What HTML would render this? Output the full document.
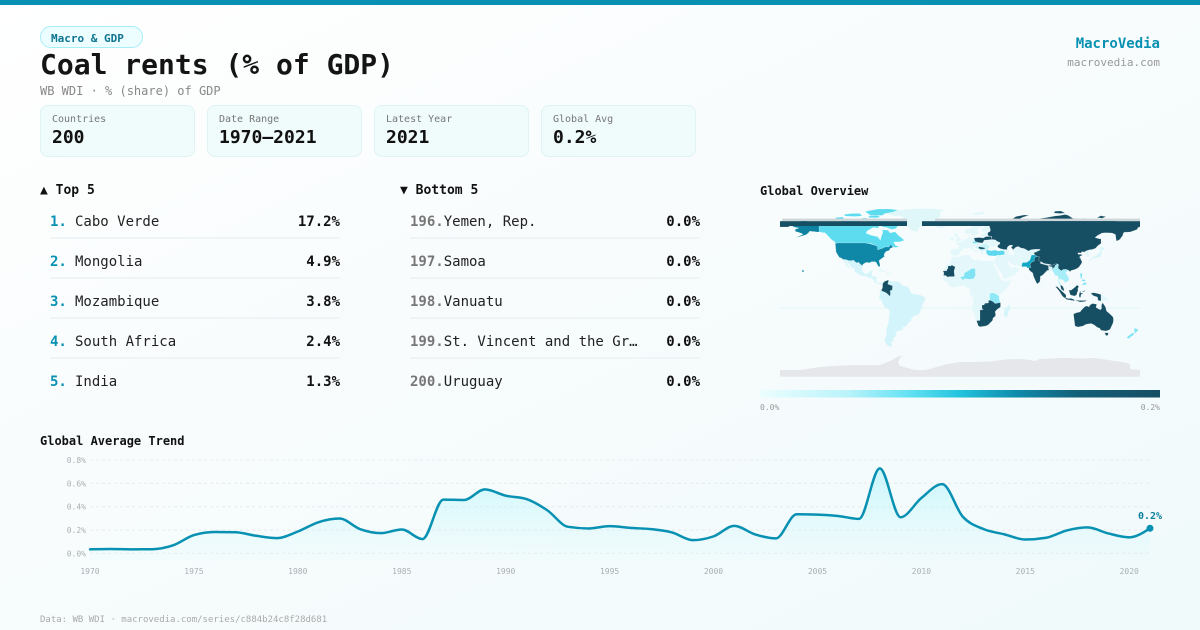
<!DOCTYPE html>
<html><head><meta charset="utf-8">
<style>
*{margin:0;padding:0;box-sizing:border-box}
html,body{width:1200px;height:630px;overflow:hidden}
body{position:relative;background:linear-gradient(155deg,#ffffff 0%,#f8fcfd 45%,#f0fafb 100%);font-family:"DejaVu Sans Mono","Liberation Mono",monospace;color:#111}
.a{position:absolute;white-space:nowrap}
.bar{position:absolute;left:0;top:0;width:1200px;height:5px;background:#0891b2}
.badge{position:absolute;left:40px;top:26px;width:103px;height:22px;border:1px solid #a5eef8;border-radius:11px;background:#ecfeff;color:#0e7490;font-weight:bold;font-size:11px;line-height:21px;padding-top:1px;padding-left:10px}
.card{position:absolute;top:105px;width:155px;height:52px;background:#f0fbfb;border:1px solid #dff3f4;border-radius:8px}
.card .l{position:absolute;left:11px;top:9px;font-size:10px;line-height:10px;color:#777;white-space:nowrap}
.card .v{position:absolute;left:11px;top:22.5px;font-size:18px;line-height:18px;font-weight:bold;color:#111;white-space:nowrap}
.h{position:absolute;font-weight:bold;white-space:nowrap;color:#111}
.row{position:absolute;width:290px;height:14px;line-height:14px;font-size:14px;white-space:nowrap;color:#222}
.rk{display:inline-block;min-width:25px;font-weight:bold;color:#0891b2}
.rk.g{color:#777}
.vl{position:absolute;right:0;top:0;font-weight:bold;color:#111}
.sep{position:absolute;width:290px;height:2px;background:#eff4f6}
</style></head><body>
<div class="bar"></div>
<div class="badge">Macro &amp; GDP</div>
<div class="a" style="left:40px;top:51.3px;font-size:28px;line-height:28px;font-weight:bold;color:#141414">Coal rents (% of GDP)</div>
<div class="a" style="left:40px;top:84.8px;font-size:12px;line-height:12px;color:#888">WB WDI · % (share) of GDP</div>

<div class="a" style="right:40px;top:37.2px;font-size:14px;line-height:14px;font-weight:bold;color:#0891b2">MacroVedia</div>
<div class="a" style="right:40px;top:56.7px;font-size:11px;line-height:11px;color:#999">macrovedia.com</div>

<div class="card" style="left:40px"><div class="l">Countries</div><div class="v">200</div></div>
<div class="card" style="left:207px"><div class="l">Date Range</div><div class="v">1970–2021</div></div>
<div class="card" style="left:374px"><div class="l">Latest Year</div><div class="v">2021</div></div>
<div class="card" style="left:541px"><div class="l">Global Avg</div><div class="v">0.2%</div></div>

<div class="h" style="left:40px;top:184.3px;font-size:13px;line-height:13px">▲ Top 5</div>
<div class="h" style="left:400px;top:184.3px;font-size:13px;line-height:13px">▼ Bottom 5</div>
<div class="h" style="left:760px;top:185.2px;font-size:12px;line-height:12px">Global Overview</div>
<div class="h" style="left:40px;top:434.9px;font-size:12px;line-height:12px">Global Average Trend</div>

<div class="row" style="left:50px;top:215.2px"><span class="rk">1.</span>Cabo Verde<span class="vl">17.2%</span></div>
<div class="sep" style="left:50px;top:237px"></div>
<div class="row" style="left:50px;top:255.2px"><span class="rk">2.</span>Mongolia<span class="vl">4.9%</span></div>
<div class="sep" style="left:50px;top:277px"></div>
<div class="row" style="left:50px;top:295.2px"><span class="rk">3.</span>Mozambique<span class="vl">3.8%</span></div>
<div class="sep" style="left:50px;top:317px"></div>
<div class="row" style="left:50px;top:335.2px"><span class="rk">4.</span>South Africa<span class="vl">2.4%</span></div>
<div class="sep" style="left:50px;top:357px"></div>
<div class="row" style="left:50px;top:375.2px"><span class="rk">5.</span>India<span class="vl">1.3%</span></div>

<div class="row" style="left:410px;top:215.2px"><span class="rk g">196.</span>Yemen, Rep.<span class="vl">0.0%</span></div>
<div class="sep" style="left:410px;top:237px"></div>
<div class="row" style="left:410px;top:255.2px"><span class="rk g">197.</span>Samoa<span class="vl">0.0%</span></div>
<div class="sep" style="left:410px;top:277px"></div>
<div class="row" style="left:410px;top:295.2px"><span class="rk g">198.</span>Vanuatu<span class="vl">0.0%</span></div>
<div class="sep" style="left:410px;top:317px"></div>
<div class="row" style="left:410px;top:335.2px"><span class="rk g">199.</span>St. Vincent and the Gr…<span class="vl">0.0%</span></div>
<div class="sep" style="left:410px;top:357px"></div>
<div class="row" style="left:410px;top:375.2px"><span class="rk g">200.</span>Uruguay<span class="vl">0.0%</span></div>

<div class="a" style="left:40px;top:615.7px;font-size:9px;line-height:9px;color:#aaa">Data: WB WDI · macrovedia.com/series/c884b24c8f28d681</div>

<svg style="position:absolute;left:0;top:0" width="1200" height="630" viewBox="0 0 1200 630" xmlns="http://www.w3.org/2000/svg">
<defs>
<linearGradient id="cb" x1="0" y1="0" x2="1" y2="0">
<stop offset="0" stop-color="#ecfeff"/><stop offset="0.22" stop-color="#b9f3fa"/><stop offset="0.38" stop-color="#5fe0f2"/><stop offset="0.5" stop-color="#22c3dd"/><stop offset="0.64" stop-color="#0e8bab"/><stop offset="0.8" stop-color="#145f77"/><stop offset="1" stop-color="#164e63"/>
</linearGradient>
<linearGradient id="af" x1="0" y1="0" x2="0" y2="1">
<stop offset="0" stop-color="#a5f3fc" stop-opacity="0.55"/><stop offset="1" stop-color="#cffafe" stop-opacity="0.08"/>
</linearGradient>
</defs>

<!-- MAP -->
<line x1="780" y1="308" x2="1140" y2="308" stroke="#e2f7fa" stroke-width="1"/>
<g transform="translate(960 292) scale(1 -1)" stroke="#ffffff" stroke-width="0.25" stroke-opacity="0.6" stroke-linejoin="round">
<polygon fill="#e5e7eb" stroke="none" points="-180,-84.7 -180,-78 -160,-78 -150,-76.5 -140,-75 -120,-73.5 -100,-73 -80,-73 -75,-71 -68,-68 -62,-64.5 -57,-63.3 -60,-66 -62,-70 -60,-74 -45,-78 -35,-78 -25,-75.5 -15,-72.5 0,-70 15,-70 30,-69.5 45,-67.5 60,-67 70,-68 75,-69 80,-67 90,-66.5 100,-66 110,-66 120,-66.5 135,-66 145,-67.5 155,-69 165,-70.5 170,-72 170,-77 180,-78 180,-84.7"/>
<polygon fill="#e0f7fa" points="-73,78 -67,76.3 -60,76 -58,75.5 -55,72 -54,70 -53,67 -51,64 -48,61 -43,60 -41.5,62.5 -40,65 -35,66 -32,68 -25,69.5 -22,70.5 -23.5,72.5 -20,75 -19,77.5 -20,80 -14,81.5 -20,82.5 -30,83.5 -40,83.5 -55,82.5 -62,82 -65,80.5 -73,78.6"/>
<polygon fill="#e4f8fb" points="-24,65.5 -22,66.4 -15,66.5 -13.5,65 -18.5,63.4 -22.5,63.8"/>
<polygon fill="#e4f8fb" points="11,78.5 16,79.8 22,80.3 27,79.5 22,77.5 17,76.6 14,77.5"/>
<g fill="#5ddcef">
<polygon points="-141,60 -141,69.6 -134,69.3 -128,70.2 -117,69 -108,68.5 -98,67.8 -94,69 -88,68.2 -82,68.5 -81,64 -87,64.5 -93,61 -94,58.8 -89,56.8 -82.3,55.2 -79.5,51.6 -79,54.5 -77,60 -78,62.3 -72,61.7 -70,59 -65,60.3 -61.5,56.5 -57,53 -56,51.6 -60,50.2 -66.5,50 -64.5,46.5 -61,45.6 -64,44.5 -66,44.8 -67.8,45.7 -69.5,47.5 -71,45 -75,45 -76.5,44 -79.2,43.3 -82.5,42 -82.5,45.3 -84.5,46.5 -88.5,48.2 -95,49 -123,49 -124.5,48.5 -125.5,50.5 -128,52 -130.5,54.5 -133,57.3 -135.5,59.5 -137.5,59.2 -139,60"/>
<polygon points="-90,71 -84,73.5 -78,72.5 -70,70.5 -66,68 -62,66.5 -64,63.5 -68,62.5 -73,64.5 -77,65 -81,67 -84,69.5"/>
<polygon points="-118,69 -113,68.5 -105,68.8 -100,69.8 -102,72.5 -110,73 -118,73 -119,71"/>
<polygon points="-125,71.8 -121,71.3 -116,73 -117,75 -124,74.5"/>
<polygon points="-90,77 -78,76.5 -75,78.5 -67,80 -62,82 -70,83 -82,83 -90,81.5 -95,80.5"/>
<polygon points="-92,74.5 -84,74.3 -80,74.8 -82,76.5 -90,76.5"/>
<polygon points="-115,76 -105,75.5 -98,76 -100,78.5 -108,78.5 -116,77.5"/>
<polygon points="-100,72 -95,71.8 -93,74 -97,74"/>
</g>
<polygon fill="#0f87a7" points="-124.7,48.4 -123,49 -95,49 -89.5,48 -84.5,46.5 -82.5,45.3 -82.5,42 -79.2,43.3 -76.5,44 -75,45 -71,45 -69.5,47.5 -67.8,45.7 -67,44.7 -70,43.5 -70.5,41.7 -74,40.5 -75.5,38.5 -76,37 -75.5,35.5 -77,34.5 -81,31.5 -80,27 -80.2,25.2 -81.5,25.5 -82.7,27.5 -84,30 -86,30.4 -89,30.2 -90,29.2 -94,29.6 -97.4,27.5 -97.4,26 -99.5,27.5 -101.5,29.8 -103,29 -104.5,29.8 -106.5,31.8 -108.2,31.3 -111,31.3 -114.8,32.5 -117.1,32.5 -118.5,34 -120.6,34.5 -122.5,37.5 -124,40.3 -124.2,43"/>
<polygon fill="#0f82a2" points="-141,60 -141,69.6 -148,70.3 -156.5,71.3 -162,70.2 -166,68.8 -163.5,66.6 -168,65.6 -164,64.5 -161,64 -165,62.5 -164.5,60.5 -162,59.9 -158,58.5 -157,57.5 -162,55.5 -164.5,54.5 -159,55.8 -154,57.2 -152,58.8 -150,61 -148,60.5 -146,60.5 -143,60"/>
<circle cx="-157" cy="21" r="0.9" fill="#0f87a7" stroke="none"/>
<polygon fill="#d6f5fa" points="-117.1,32.5 -114.8,32.5 -111,31.3 -108.2,31.3 -106.5,31.8 -104.5,29.8 -103,29 -101.5,29.8 -99.5,27.5 -97.4,26 -97.8,22 -96,19 -94.5,18.2 -91,18.8 -90.5,21 -87,21.5 -88,18.2 -88.5,15.8 -84,15.8 -83.3,15 -83.5,11 -82.5,9.3 -81,8.8 -79.5,9.5 -77.3,8.5 -77.9,7.2 -80.5,7.3 -81.5,7.8 -85.7,10 -86,12 -88,13.2 -92,14.5 -94.5,16 -97,15.8 -101,17.3 -105.5,20.5 -105.5,23 -109,24.5 -110.5,27.5 -112.7,29.8 -114.8,31.8 -113,29.5 -112.3,27.5 -110,24.2 -110.3,23.3 -112,24.7 -114.5,27.8 -114,28.7 -115.8,30.3"/>
<polygon fill="#e0f7fa" points="-85,21.8 -82,22.6 -80,23.1 -77,22 -74.1,20.2 -77.7,19.9 -78,21 -81,21.8"/>
<polygon fill="#e0f7fa" points="-74.5,18.4 -72.5,19.9 -68.5,18.6 -68.4,18.2 -71,17.8"/>
<polygon fill="#d2f4fa" points="-77.3,8.5 -75.5,10.6 -72,11.9 -71.3,11.5 -68,10.7 -64,10.7 -61,10.2 -58,6.8 -54,5.8 -51,4.2 -50,1.8 -49,-1 -44.5,-2.5 -40,-2.8 -35,-5.2 -34.8,-7.5 -37,-12 -39,-17.5 -40,-20.5 -42,-23 -45,-23.6 -48.5,-26 -48.7,-28.5 -52,-31.5 -54,-34.5 -57,-35 -57.5,-38 -62,-39 -65,-41 -63.5,-42.7 -65,-45 -67.5,-46.5 -66,-48 -69,-51 -68.5,-52.5 -68,-55 -71.5,-54 -74,-52 -75.5,-48 -73.5,-43 -73.5,-37 -71.5,-30 -70.3,-18.5 -75.5,-15 -79,-8 -81.2,-6 -80.3,-3.5 -80.5,0 -79.5,1.5 -78.8,1.8 -77.5,4"/>
<polygon fill="#164e63" points="-77.3,8.5 -75.5,10.6 -72,11.9 -71.3,11.5 -72.3,8 -70,7 -67.5,6.2 -67.8,2 -70,1.2 -69.5,-1 -70,-4.2 -73.5,-1 -75.2,-0.1 -77.5,0.8 -78.8,1.8 -77.5,4"/>
<polygon fill="#e4f8fb" points="-17,21 -17.2,14.7 -16.7,12.4 -15,11 -13,9 -11.4,6.8 -7.5,4.4 -4,5.2 1,6 4.5,6.3 6,4.3 8.5,4.5 9.7,3 9.5,1 9,-1 11.8,-4.5 12.3,-6 13.3,-8.8 12.3,-13.5 11.8,-17 14.5,-22.5 15.2,-27 16.5,-28.6 18.4,-34 20,-34.8 25.6,-34 28,-33 32.5,-28.5 33,-26 35.5,-24 35.5,-21.5 35,-19.8 37,-17.5 40.5,-15 40.5,-10.5 39.3,-8 39,-4.7 41,-1.7 43.5,0.6 48,4.5 51,10.5 51.2,11.8 48,11.2 44.5,10.4 43.2,11.6 41.8,11.6 39.5,15.5 38,18 37.3,21 35.5,23.8 34,27 32.5,30 32.3,31.3 29,30.9 25,31.6 20,31 20,32.2 15.5,32 11.5,33.2 10.3,36.9 9.5,37.3 3,36.8 -2,35.1 -5.9,35.8 -9.5,32.5 -9.8,29.5 -13,27.8 -14.5,26.2"/>
<polygon fill="#164e63" points="-17,21 -16,19 -16.5,16.5 -14.5,16.6 -12,14.8 -11.5,15.4 -5.5,15.5 -5.5,16.5 -6,21 -4.8,25 -8.7,27.3 -8.7,26 -12,26 -12,23.5 -13.1,22.8 -13,21.3"/>
<polygon fill="#7fe3f3" points="0.2,14.9 2.2,12.6 3.6,11.7 4,13.5 7,13 9.6,12.8 13.6,13.3 14,14 15.5,16.8 15.2,21 15.5,23 14,23.5 12,23.5 7.5,20.8 5.5,19.5 4.2,19.1 4.3,16.8 3.6,15.5 1.3,15.3"/>
<polygon fill="#164e63" points="16.5,-28.6 18.4,-34 20,-34.8 25.6,-34 28,-33 32.5,-28.5 33,-26 35.5,-24 35.5,-21.5 35,-19.8 37,-17.5 40.5,-15 40.5,-10.5 35,-11.5 33,-9.5 30.5,-8.2 28.5,-8.5 28.5,-11 25,-11.3 24,-13 22,-13 22,-16.5 23.4,-17.6 20,-18 20,-22 20,-24.8 20,-28.5"/>
<polygon fill="#8fe8f6" points="30,-1 34,-1 37.6,-3 39.3,-4.7 39.3,-8 40.5,-10.5 35,-11.5 33,-9.5 30.5,-8.2 29.5,-6"/>
<polygon fill="#d6f5fa" points="49.5,-12 50.5,-15.5 49.5,-17.5 48,-22 47.2,-25 45,-25.5 43.5,-22 44.3,-18.5 44,-16.5 46.5,-15.7 48,-13.5"/>
<polygon fill="#e4f8fb" points="-9.5,37 -7.5,37.2 -6,36.2 -5,36.2 -2,36.7 0,38.7 0.3,40 3.2,42 3,43.3 6.5,43.1 8.5,44.3 10.2,43.9 12.5,41.8 15.7,40 16,38 16.5,39.5 18.5,40.2 16,41.5 14,43 12.3,45.2 13.7,45.6 15.5,43.5 19.5,41.8 19.3,40.3 21,39 23,36.5 23,38.2 24,38.3 22.8,40.5 26.3,40.9 26,41.7 28,42 28.5,43.5 29.7,45.2 28,48 24,48 22.5,49 18.5,49.5 15,50.8 14,54 10.5,54.5 10,57.5 8.5,55.5 8.5,53.8 5,53.3 4,51.5 2,51 -1.5,49.7 -4.5,48.5 -1.2,46 -1.5,43.5 -9,43"/>
<polygon fill="#e4f8fb" points="5,58 5,62 10,64 14,67.5 18,69.5 23,70.5 28.5,71 31,70 29,69 28.5,68 30,67.5 29.5,65 30.5,62.5 28,60.5 22.5,60 21.5,61 21.5,63.5 25,65.5 23.5,66 21,65 17.5,62.5 17,61 19,59.5 16.5,57 14,55.5 12.5,56.2 11,58.8 8,58"/>
<polygon fill="#e4f8fb" points="-5.7,50 1.5,51.2 1.7,52.7 0,53.5 -1.5,55 -2,56 -1.8,57.6 -3,58.6 -5,58.6 -6.2,57 -5.6,55.3 -3,54.8 -3.2,53.4 -4.7,52.8 -4,51.6"/>
<polygon fill="#e4f8fb" points="-6,52.1 -6,54 -7.5,55.2 -10,54.2 -10,51.6"/>
<polygon fill="#e4f8fb" points="21,54 24,54 25,56 28,56 28,59.5 24,59.5 21.5,57.5 21,56.5"/>
<polygon fill="#e4f8fb" points="24,52 31,52 34,52 40,49.5 38,47 35,46 33,44.5 30,45.5 28,48 24,48 22.5,49"/>
<polygon fill="#7fe2f3" points="12,50.3 15,50.8 18.5,49.8 17,48.6 13.5,48.6"/>
<polygon fill="#c8f3fa" points="16,45.5 20,46.2 22,48 26.5,48.2 28.2,46.5 29.7,45.2 28.6,43.7 28,42 26,41.7 22.5,41.3 20.5,42 18.5,42.5 16,44.5"/>
<polygon fill="#164e63" points="18.5,45.3 22,44.8 25.5,44 24,43 21,42.8 19,43.5"/>
<polygon fill="#164e63" points="14,54 19,54.5 23.5,54 26,55.5 31,55.5 32,52.5 24,51.8 23.5,50.5 22.5,49 18.5,49.5 15,50.8"/>
<polygon fill="#e4f8fb" points="32.3,31.3 34.5,31.5 35.5,33.5 36,36 36.5,36.8 44,37 44.5,39.5 48,38.5 49,37.5 53.5,37.3 54,37.5 60,37.5 61,36.5 61,31.5 63,29.5 62,28.5 61.6,25.2 57.5,25.8 56.5,27 54,26.5 51.5,27.8 50,30 48,29.8 48.5,28 50,26.2 51.5,25.5 51.2,24.2 52,24 56,26 56.5,24.5 59.8,22.5 58.5,20.5 55,17 52,15.8 48,14 45,13 43.5,12.7 42.7,15.5 42,17.8 40.5,20 39,22 38,24 36.5,26 34.8,28 35,29.5 34,27.5 32.5,30"/>
<polygon fill="#e4f8fb" points="40,43.5 44,42.5 47.5,42.5 49.5,40.5 48.5,38.5 44.8,39.7 43.5,41.1 41.5,41.5"/>
<polygon fill="#e4f8fb" points="52.5,41.8 56,45 58.5,45.5 61,44 64,43.5 66,42.5 68.5,41 71,42.3 75,42.8 80,42.8 80.2,42 78,41 75,39.5 73.5,39.5 74.8,37.3 71.5,37 71,35.5 70.5,33.5 69.5,31.5 66.5,29.5 63,29.5 61,31.5 61,36.5 60,37.5 54,37.5 53.5,39"/>
<polygon fill="#5fd8ee" points="26,40 26.5,41.7 28,42 31,41.2 35,42 38.5,40.9 41.5,41.5 43.5,41.1 44.8,39.7 44.2,37.2 42.3,37.1 40,36.8 36.5,36.8 36,36 32.5,36.1 30,36.3 28,36.8 27,38 26.3,39.5"/>
<polygon fill="#13a8c6" points="61.6,25.2 66.5,25.4 67.5,23.8 68.8,24.3 71,24.5 70,27.8 72,30 74.5,31 74.5,34.5 77.5,35.5 75,37 71.5,37 71,35.5 70.5,33.5 69.5,31.5 66.5,29.5 63,29.5 62,28.5"/>
<polygon fill="#164e63" points="30,69.8 33,69.3 40,67.5 41,66 44,68.5 46,67.5 50,68 54,68.5 59,68.5 61,69.5 66,69 68,71 70,73 72,72.8 75,72.5 78,72.3 80,73.5 87,74.5 95,76 100,76.5 105,77.5 108,76.7 113,73.5 120,73 126,73.5 130,71 135,71.5 140,72.5 146,72.3 150,71.5 155,71 160,69.5 165,69.7 170,70 176,69.5 180,69 180,65 178,64.5 177,62.5 173,61 170,60 164,59.8 163,58 162.5,56 161.5,55 160,52.7 158,51.5 156.5,51 156,53.5 155.5,57.5 152,59 146,59.3 142,59 137.5,56.5 135,54.5 138,53.5 141,53 141,48.5 138,46.5 135.5,43.7 133,42.8 130.7,42.3 129,42 126,41 124.3,39.9 122,40.5 121,39 118,39.2 117.7,38.4 118.8,37.5 120.7,37.8 122.5,37 120.5,36 119.2,34.8 120.3,34.3 121,32 122,30.5 121.5,28.5 120,26.5 119,25 117,23.5 114,22.3 111,21.5 110,20.3 108.6,21.7 106.5,22.5 103.5,22.6 101.5,21.3 100,22 98,24 98.5,27.5 97.3,28 96,28.2 92,26.8 89,27.9 88,27.8 84,28.5 81,30.2 79,31.3 78.5,32.6 79.5,35 77.5,35.5 75,37 74.8,37.3 73.5,39.5 75,39.5 78,41 80.2,42 80,42.8 75,42.8 71,42.3 68.5,41 66,42.5 64,43.5 61,44 58.5,45.5 56,45 52.5,41.8 52.8,43 51,44.5 53,46.5 51,47 49,46.4 47.5,45 47,43.5 47.5,42.5 44,42.5 40,43.5 37.5,45 38,47 39.7,47.8 40,49.5 37.5,50.5 35,52.2 32,52.5 31.5,54 32,55.5 28.5,56 27.5,58 28,59.5 30,60.5 30.5,62.5 29.5,65 30,67.5 28.5,69"/>
<polygon fill="#164e63" points="-180,69 -175,67.5 -170,66 -172,65 -178,65 -180,65"/>
<polygon fill="#164e63" points="52,71.5 56,70.8 58,72 62,74.5 69,76.8 64,77 56,75.5 53,73.5"/>
<polygon fill="#164e63" points="94,79 100,78.5 105,79 101,81 95,80.8"/>
<polygon fill="#164e63" points="137,74.5 142,73.8 146,75.3 141,76.2"/>
<polygon fill="#164e63" points="68.8,24.3 69,22.3 70.5,20.8 72.8,19 73.5,15.8 74.8,12.8 76.3,9.5 77.5,8.1 78.2,8.9 79.8,10.3 80.3,13.5 80.3,15.8 82.3,16.6 85,19.3 87,21.5 89,21.8 88.5,24 88.5,26.5 92,26.8 96,28.2 97.3,28 95.2,26.5 94.5,24.5 93.3,24 92.5,22 91.5,23.5 92.3,25 89.8,25.5 88,26.5 88,27.8 84,28.5 81,30.2 79,31.3 78.5,32.6 79.5,35 77.5,35.5 74.5,34.5 74.5,31 72,30 70,27.8 71,24.5"/>
<polygon fill="#d6f5fa" points="88.5,24 89,21.8 90.5,22 91.8,22.3 92.5,22 92.3,25 89.8,25.5"/>
<polygon fill="#e4f8fb" points="80,28.8 84,27.5 88,26.5 88,27.8 84,28.5 81,30.2"/>
<polygon fill="#e4f8fb" points="79.8,8 81,6 81.9,7.5 80.2,9.8"/>
<polygon fill="#a5eef8" points="92.2,21 92.5,22 93.3,24 94.5,24.5 95.2,26.5 97.3,28 98.5,27.5 98,24 100,22 101.5,21.3 103.5,22.6 106.5,22.5 108,21.6 106.5,20 105.7,18.8 108,16 109.3,13 109,11.5 107,10.5 105,8.6 104.8,10.3 102.5,12.2 101,12.6 100,13.5 99.2,10.5 100.3,8 101,6.8 100.3,6.5 98.5,8.2 98.5,13 98,16 97.7,16.5 95.3,16 94.3,18.5"/>
<polygon fill="#164e63" points="100.3,6.5 101,6.8 102.5,6 103.5,4 104.3,1.4 103.5,1.3 101.3,2.8"/>
<polygon fill="#164e63" points="95.3,5.6 97.5,5.2 100.3,2.2 104,-1 106,-3 106,-5.8 104.5,-5.9 102.3,-4 100.3,-0.8 98.6,1.8"/>
<polygon fill="#164e63" points="105.2,-6.8 106,-5.9 108.5,-6.6 111,-6.4 114.5,-7.7 114.4,-8.7 111,-8.2 106.5,-7.4"/>
<polygon fill="#164e63" points="109,1.5 109.7,-1 110.5,-3 114.5,-4 116.5,-3 117.5,0.5 118,1 117.8,4 119,5.3 117,7 115.5,5.3 113,3.2 111,1.8 109.7,2"/>
<polygon fill="#164e63" points="119.5,-5.5 120.5,-5.5 121,-2.5 123.3,-1 120.5,-1 120.5,0.5 125,1.5 124.5,0.4 120,0.7 119,-3"/>
<polygon fill="#164e63" points="131,-1 134,-0.8 138,-1.6 141,-2.6 141,-9.1 138,-8.3 137.5,-5 134,-4 132,-2.6"/>
<polygon fill="#164e63" points="115,-8.3 119,-8.5 125,-8.5 127,-8.3 125,-9.5 120,-10"/>
<polygon fill="#e4f8fb" points="141,-2.6 145,-4.5 147.5,-6 150,-10.5 146,-8.5 143.5,-9 141,-9.1"/>
<g fill="#6ddff2">
<polygon points="120,18.5 122.3,18.5 122,16 121.5,14 124,13 120.5,13.8 120.5,16"/>
<polygon points="122,7 126,7.5 126.5,9 125,9.5 122.5,8"/>
<polygon points="122,11 124,10.5 125.5,11.5 124.5,12.5 122.5,12.5"/>
</g>
<polygon fill="#e4f8fb" points="124.3,39.9 126,41 129,42 130.5,42.5 129.5,40.8 128.3,38.6 129.5,37 129.3,35.2 126.5,34.5 126.2,37 125.2,37.7 124.7,38.3"/>
<polygon fill="#d6f5fa" points="130.9,34 132.5,35.4 135.5,35.7 137,37 140,40 140,41.4 141.5,41.3 142,39 141,38 140.8,36 140,35 137,34.5 135.2,33.8 132,33.8"/>
<polygon fill="#d6f5fa" points="129.7,33.3 131,34 132,33 131,31.3 130.2,31.3"/>
<polygon fill="#d6f5fa" points="140,41.5 140,43.2 141.5,45.4 145.5,43.4 143,42"/>
<polygon fill="#e4f8fb" points="120.1,23 121,25.2 122,25 121,22"/>
<polygon fill="#164e63" points="113.5,-22 114,-26 115,-34 118,-35 123,-34 126,-32.3 131,-31.5 134,-32.8 137.5,-35.5 139.5,-36 141,-38.3 146,-39 150,-37.5 153,-31 153.5,-28 153,-25 150.5,-22.5 146.5,-19 145.5,-15 143.5,-12 142.5,-10.7 141.5,-13 141.5,-17 140,-17.7 136,-15.5 136.7,-12.2 132.5,-11.5 130,-13 129,-15 127,-14 125,-14.5 122,-17.5 120,-20 116.5,-20.7"/>
<polygon fill="#164e63" points="144.6,-40.7 148.3,-40.9 148,-43.2 146,-43.6"/>
<polygon fill="#7fe4f4" points="172.7,-34.4 174.5,-36 178.5,-37.7 177,-39.5 175,-41.5 174.6,-39.8 173.8,-39 174.6,-37"/>
<polygon fill="#7fe4f4" points="172.7,-40.5 174.3,-41.7 173,-43.5 171.2,-44.5 169,-46.6 166.5,-46 168.3,-44 171,-42"/>
</g>
<rect x="782" y="218.6" width="125" height="2.6" fill="#cfd6da"/>
<rect x="780" y="221.2" width="127" height="4.8" fill="#164e63"/>
<rect x="935" y="218.6" width="205" height="2.6" fill="#cfd6da"/>
<rect x="922" y="221.2" width="218" height="4.8" fill="#164e63"/>

<rect x="760" y="390" width="400" height="7.5" fill="url(#cb)"/>
<text x="760" y="410" font-family="DejaVu Sans Mono, Liberation Mono, monospace" font-size="8" fill="#999">0.0%</text>
<text x="1160" y="410" text-anchor="end" font-family="DejaVu Sans Mono, Liberation Mono, monospace" font-size="8" fill="#999">0.2%</text>

<g stroke="#e6eaee" stroke-width="1" stroke-dasharray="3 3">
<line x1="90" y1="460.0" x2="1150" y2="460.0"/>
<line x1="90" y1="483.3" x2="1150" y2="483.3"/>
<line x1="90" y1="506.7" x2="1150" y2="506.7"/>
<line x1="90" y1="530.0" x2="1150" y2="530.0"/>
<line x1="90" y1="553.3" x2="1150" y2="553.3"/>
</g>
<g font-family="DejaVu Sans Mono, Liberation Mono, monospace" font-size="8" fill="#aab0b5" text-anchor="end">
<text x="86" y="463">0.8%</text>
<text x="86" y="486.3">0.6%</text>
<text x="86" y="509.7">0.4%</text>
<text x="86" y="533">0.2%</text>
<text x="86" y="556.3">0.0%</text>
</g>
<g font-family="DejaVu Sans Mono, Liberation Mono, monospace" font-size="8" fill="#aab0b5" text-anchor="middle">
<text x="90" y="574">1970</text>
<text x="193.9" y="574">1975</text>
<text x="297.8" y="574">1980</text>
<text x="401.8" y="574">1985</text>
<text x="505.7" y="574">1990</text>
<text x="609.6" y="574">1995</text>
<text x="713.5" y="574">2000</text>
<text x="817.5" y="574">2005</text>
<text x="921.4" y="574">2010</text>
<text x="1025.3" y="574">2015</text>
<text x="1129.2" y="574">2020</text>
</g>
<path id="area" fill="url(#af)" stroke="none" d="M90,549.3 L110.8,549 L131.6,549.3 L152.4,549.2 L173.1,545.4 L193.9,535.1 L214.7,532 L235.5,532.3 L256.3,535.8 L277.1,538.1 L297.8,531.5 L318.6,522.1 L339.4,518.5 L360.2,529.1 L381,533.1 L401.8,529.5 L422.5,539.1 L443.3,499.6 L464.1,500 L484.9,489.4 L505.7,495.7 L526.5,499 L547.3,510.2 L568,526.8 L588.8,528.4 L609.6,526.1 L630.4,527.9 L651.2,529.1 L672,532.4 L692.7,540.1 L713.5,536.4 L734.3,525.9 L755.1,534.4 L775.9,538.4 L796.7,514.2 L817.5,514.6 L838.2,516 L859,518.9 L879.8,468.4 L900.6,517.2 L921.4,498 L942.2,484.1 L962.9,516.9 L983.7,529.1 L1004.5,534.4 L1025.3,539.5 L1046.1,537.8 L1066.9,530.4 L1087.6,527.4 L1108.4,533.5 L1129.2,537.3 L1150,528.3 L1150,561 L90,561 Z"/>
<path id="line" fill="none" stroke="#0891b2" stroke-width="2.5" stroke-linejoin="round" stroke-linecap="round" d="M90,549.3 L110.8,549 L131.6,549.3 L152.4,549.2 L173.1,545.4 L193.9,535.1 L214.7,532 L235.5,532.3 L256.3,535.8 L277.1,538.1 L297.8,531.5 L318.6,522.1 L339.4,518.5 L360.2,529.1 L381,533.1 L401.8,529.5 L422.5,539.1 L443.3,499.6 L464.1,500 L484.9,489.4 L505.7,495.7 L526.5,499 L547.3,510.2 L568,526.8 L588.8,528.4 L609.6,526.1 L630.4,527.9 L651.2,529.1 L672,532.4 L692.7,540.1 L713.5,536.4 L734.3,525.9 L755.1,534.4 L775.9,538.4 L796.7,514.2 L817.5,514.6 L838.2,516 L859,518.9 L879.8,468.4 L900.6,517.2 L921.4,498 L942.2,484.1 L962.9,516.9 L983.7,529.1 L1004.5,534.4 L1025.3,539.5 L1046.1,537.8 L1066.9,530.4 L1087.6,527.4 L1108.4,533.5 L1129.2,537.3 L1150,528.3"/>
<circle cx="1150" cy="528.3" r="3.5" fill="#0891b2"/>
<text x="1150" y="519" text-anchor="middle" font-family="DejaVu Sans Mono, Liberation Mono, monospace" font-size="10" font-weight="bold" fill="#0e7f9f">0.2%</text>
</svg>

<script>
(function(){
var v=[0.034,0.037,0.034,0.035,0.068,0.156,0.183,0.180,0.150,0.130,0.187,0.267,0.298,0.207,0.173,0.204,0.122,0.460,0.457,0.548,0.494,0.465,0.369,0.227,0.213,0.233,0.218,0.207,0.179,0.113,0.145,0.235,0.162,0.128,0.335,0.332,0.320,0.295,0.728,0.309,0.474,0.593,0.312,0.207,0.162,0.118,0.133,0.196,0.222,0.170,0.137,0.214];
var p=v.map(function(a,i){return [90+i*1060/51,553.3-a*116.67];});
function sg(x){return x<0?-1:1;}
function s3(a,b,c){var h0=b[0]-a[0],h1=c[0]-b[0],s0=(b[1]-a[1])/h0,s1=(c[1]-b[1])/h1,q=(s0*h1+s1*h0)/(h0+h1);return (sg(s0)+sg(s1))*Math.min(Math.abs(s0),Math.abs(s1),0.5*Math.abs(q))||0;}
var n=p.length,t=new Array(n);
for(var i=1;i<n-1;i++)t[i]=s3(p[i-1],p[i],p[i+1]);
var h=p[1][0]-p[0][0];t[0]=(3*(p[1][1]-p[0][1])/h-t[1])/2;
h=p[n-1][0]-p[n-2][0];t[n-1]=(3*(p[n-1][1]-p[n-2][1])/h-t[n-2])/2;
var d="M"+p[0][0].toFixed(2)+","+p[0][1].toFixed(2);
for(i=0;i<n-1;i++){var x0=p[i][0],y0=p[i][1],x1=p[i+1][0],y1=p[i+1][1],dx=(x1-x0)/3;
d+=" C"+(x0+dx).toFixed(2)+","+(y0+dx*t[i]).toFixed(2)+" "+(x1-dx).toFixed(2)+","+(y1-dx*t[i+1]).toFixed(2)+" "+x1.toFixed(2)+","+y1.toFixed(2);}
document.getElementById("line").setAttribute("d",d);
document.getElementById("area").setAttribute("d",d+" L1150,561 L90,561 Z");
})();
</script>
</body></html>
